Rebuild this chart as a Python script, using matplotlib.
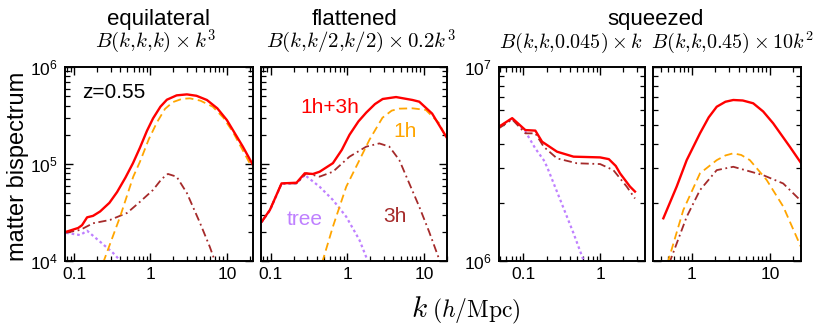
import matplotlib
matplotlib.use("Agg")
import matplotlib.pyplot as plt
from matplotlib.ticker import LogLocator, NullFormatter

plt.rcParams['font.family'] = ['Liberation Sans', 'DejaVu Sans']
plt.rcParams['mathtext.fontset'] = 'custom'
plt.rcParams['mathtext.rm'] = 'Liberation Sans'
plt.rcParams['mathtext.it'] = 'Liberation Sans:italic'
plt.rcParams['mathtext.bf'] = 'Liberation Sans:bold'

# --------------------------------------------
# DATA
# --------------------------------------------
# equilateral
eq_red_k = [0.0786, 0.113, 0.127, 0.148, 0.177, 0.219, 0.29, 0.365, 0.47, 0.59, 0.73, 0.9, 1.08, 1.35, 1.64, 2.2, 3.0, 4.0, 5.48, 7.5, 10, 16.2, 21.9]
eq_red_b = [2.00e4, 2.19e4, 2.34e4, 2.82e4, 2.92e4, 3.24e4, 3.98e4, 5.13e4, 7.24e4, 1.02e5, 1.48e5, 2.20e5, 2.95e5, 3.90e5, 4.60e5, 5.10e5, 5.22e5, 5.05e5, 4.57e5, 3.75e5, 2.84e5, 1.51e5, 9.8e4]
eq_1h_k = [0.24, 0.40, 0.595, 0.73, 0.95, 1.22, 1.55, 1.97, 2.6, 3.28, 4.5, 6.56, 9.0, 12.0, 21.2]
eq_1h_b = [9.6e3, 2.86e4, 7.40e4, 1.06e5, 1.80e5, 2.70e5, 3.70e5, 4.35e5, 4.70e5, 4.75e5, 4.50e5, 3.89e5, 3.00e5, 2.14e5, 9.3e4]
eq_3h_k = [0.0786, 0.12, 0.177, 0.295, 0.494, 0.73, 1.08, 1.4, 1.69, 2.2, 3.0, 4.45, 5.98, 7.1]
eq_3h_b = [1.96e4, 2.09e4, 2.45e4, 2.65e4, 3.13e4, 4.08e4, 5.40e4, 7.0e4, 7.9e4, 7.4e4, 5.01e4, 2.47e4, 1.40e4, 9.6e3]
eq_tree_k = [0.0786, 0.12, 0.148, 0.219, 0.324, 0.43]
eq_tree_b = [1.95e4, 1.85e4, 2.05e4, 1.58e4, 1.21e4, 9.5e3]

# flattened
fl_red_k = [0.0764, 0.098, 0.139, 0.218, 0.279, 0.357, 0.436, 0.65, 0.85, 1.07, 1.4, 1.77, 2.3, 2.9, 4.33, 7.1, 8.69, 12.8, 20.7]
fl_red_b = [2.54e4, 3.36e4, 6.31e4, 6.41e4, 8.02e4, 7.89e4, 8.32e4, 1.02e5, 1.40e5, 2.0e5, 2.75e5, 3.39e5, 4.15e5, 4.68e5, 4.9e5, 4.57e5, 4.39e5, 3.31e5, 1.77e5]
fl_1h_k = [0.47, 0.65, 0.97, 1.445, 1.95, 2.88, 3.8, 4.77, 7.1, 10.6, 15.8, 20.7]
fl_1h_b = [9.6e3, 2.26e4, 5.83e4, 1.10e5, 1.78e5, 3.00e5, 3.55e5, 3.72e5, 3.75e5, 3.61e5, 2.63e5, 1.70e5]
fl_3h_k = [0.0764, 0.098, 0.139, 0.218, 0.293, 0.436, 0.65, 1.07, 1.77, 2.62, 3.54, 4.77, 6.44, 8.69, 11.7, 16.5]
fl_3h_b = [2.51e4, 3.36e4, 6.31e4, 6.31e4, 8.02e4, 7.41e4, 8.32e4, 1.19e5, 1.51e5, 1.63e5, 1.51e5, 1.10e5, 6.31e4, 3.63e4, 2.0e4, 9.5e3]
fl_tree_k = [0.0764, 0.098, 0.139, 0.218, 0.279, 0.436, 0.65, 0.97, 1.445, 1.9]
fl_tree_b = [2.51e4, 3.31e4, 6.24e4, 6.31e4, 7.71e4, 5.83e4, 4.26e4, 2.86e4, 1.64e4, 9.5e3]

# squeezed, k3 = 0.045
sq1_red_k = [0.0478, 0.0713, 0.106, 0.143, 0.175, 0.274, 0.45, 1.0, 1.3, 1.6, 1.82, 2.45, 2.85]
sq1_red_b = [4.92e6, 5.45e6, 4.73e6, 4.70e6, 4.12e6, 3.66e6, 3.45e6, 3.42e6, 3.35e6, 3.09e6, 2.83e6, 2.42e6, 2.28e6]
sq1_3h_k = [0.0478, 0.0713, 0.106, 0.143, 0.184, 0.274, 0.498, 1.0, 1.49, 2.22, 2.85]
sq1_3h_b = [4.83e6, 5.37e6, 4.55e6, 4.55e6, 3.88e6, 3.38e6, 3.19e6, 3.16e6, 2.94e6, 2.42e6, 2.10e6]
sq1_tree_k = [0.0478, 0.0713, 0.106, 0.143, 0.184, 0.203, 0.303, 0.45, 0.63]
sq1_tree_b = [4.90e6, 5.41e6, 4.65e6, 3.80e6, 3.31e6, 3.06e6, 2.06e6, 1.39e6, 9.7e5]

# squeezed, k3 = 0.45
sq2_red_k = [0.434, 0.643, 0.863, 1.276, 1.65, 2.09, 2.7, 3.40, 4.5, 6.12, 8.2, 11.0, 18.0, 25.0]
sq2_red_b = [1.66e6, 2.42e6, 3.31e6, 4.55e6, 5.50e6, 6.24e6, 6.62e6, 6.76e6, 6.72e6, 6.50e6, 5.90e6, 5.13e6, 3.88e6, 3.20e6]
sq2_1h_k = [0.49, 0.781, 1.276, 2.09, 2.7, 3.40, 4.3, 5.55, 9.07, 14.8, 25.0]
sq2_1h_b = [9.7e5, 1.83e6, 2.83e6, 3.31e6, 3.50e6, 3.59e6, 3.52e6, 3.31e6, 2.62e6, 1.91e6, 1.18e6]
sq2_3h_k = [0.515, 0.863, 1.276, 2.09, 3.40, 8.2, 14.8, 25.0]
sq2_3h_b = [9.7e5, 1.69e6, 2.32e6, 2.94e6, 3.06e6, 2.77e6, 2.51e6, 2.04e6]

C_TOT = '#ff0000'
C_1H = '#ffa500'
C_3H = '#a52a2a'
C_TREE = '#bf80ff'


def style_axes(ax, xlim, ylim, xt, xtl, yt, ytl):
    ax.set_xscale('log')
    ax.set_yscale('log')
    ax.set_xlim(*xlim)
    ax.set_ylim(*ylim)
    ax.set_xticks(xt)
    ax.set_xticklabels(xtl)
    ax.set_yticks(yt)
    ax.set_yticklabels(ytl)
    for axis in (ax.xaxis, ax.yaxis):
        axis.set_minor_locator(LogLocator(base=10, subs=range(2, 10), numticks=30))
        axis.set_minor_formatter(NullFormatter())
    ax.tick_params(which='both', direction='in', top=True, right=True, labelsize=12.5)
    ax.tick_params(which='major', length=6, width=1)
    ax.tick_params(which='minor', length=3.5, width=0.9)
    ax.tick_params(axis='x', pad=4)
    ax.tick_params(axis='y', pad=5)
    for sp in ax.spines.values():
        sp.set_linewidth(1.4)


def draw(ax, k, b, kind):
    if kind == 'tot':
        ax.plot(k, b, color=C_TOT, lw=1.7)
    elif kind == '1h':
        ax.plot(k, b, color=C_1H, lw=1.3, dashes=(4.5, 2.5))
    elif kind == '3h':
        ax.plot(k, b, color=C_3H, lw=1.3, dashes=(4.5, 2, 1, 2))
    else:
        ax.plot(k, b, color=C_TREE, lw=1.6, dashes=(1.2, 1.3))


fig = plt.figure(figsize=(8.17, 3.27), dpi=100)
ax1 = fig.add_axes([65/817, 1-261/327, 188/817, 194/327])
ax2 = fig.add_axes([261/817, 1-261/327, 186/817, 194/327])
ax3 = fig.add_axes([499/817, 1-261/327, 146/817, 194/327])
ax4 = fig.add_axes([653/817, 1-261/327, 148/817, 194/327])

# equilateral
draw(ax1, eq_tree_k, eq_tree_b, 'tree')
draw(ax1, eq_3h_k, eq_3h_b, '3h')
draw(ax1, eq_1h_k, eq_1h_b, '1h')
draw(ax1, eq_red_k, eq_red_b, 'tot')
style_axes(ax1, (0.076, 22), (1e4, 1e6), [0.1, 1, 10], ['0.1', '1', '10'],
           [1e4, 1e5, 1e6], ['$10^{4}$', '$10^{5}$', '$10^{6}$'])
ax1.text(0.09, 0.87, 'z=0.55', transform=ax1.transAxes, fontsize=15, va='center')

# flattened
draw(ax2, fl_tree_k, fl_tree_b, 'tree')
draw(ax2, fl_3h_k, fl_3h_b, '3h')
draw(ax2, fl_1h_k, fl_1h_b, '1h')
draw(ax2, fl_red_k, fl_red_b, 'tot')
style_axes(ax2, (0.075, 20), (1e4, 1e6), [0.1, 1, 10], ['0.1', '1', '10'],
           [1e4, 1e5, 1e6], ['', '', ''])
ax2.text(0.21, 0.789, '1h+3h', transform=ax2.transAxes, fontsize=15, color=C_TOT, va='center')
ax2.text(0.71, 0.67, '1h', transform=ax2.transAxes, fontsize=15, color=C_1H, va='center')
ax2.text(0.14, 0.216, 'tree', transform=ax2.transAxes, fontsize=15, color=C_TREE, va='center')
ax2.text(0.656, 0.227, '3h', transform=ax2.transAxes, fontsize=15, color=C_3H, va='center')

# squeezed
draw(ax3, sq1_tree_k, sq1_tree_b, 'tree')
draw(ax3, sq1_3h_k, sq1_3h_b, '3h')
draw(ax3, sq1_red_k, sq1_red_b, 'tot')
style_axes(ax3, (0.048, 3.85), (1e6, 1e7), [0.1, 1], ['0.1', '1'],
           [1e6, 1e7], ['$10^{6}$', '$10^{7}$'])

draw(ax4, sq2_3h_k, sq2_3h_b, '3h')
draw(ax4, sq2_1h_k, sq2_1h_b, '1h')
draw(ax4, sq2_red_k, sq2_red_b, 'tot')
style_axes(ax4, (0.32, 25), (1e6, 1e7), [1, 10], ['1', '10'],
           [1e6, 1e7], ['', ''])

# titles
ty = 1 - 25/327
sy = 1 - 48/327
fig.text(159/817, ty, 'equilateral', fontsize=16, ha='center', va='baseline')
fig.text(354/817, ty, 'flattened', fontsize=16, ha='center', va='baseline')
fig.text(656/817, ty, 'squeezed', fontsize=16, ha='center', va='baseline')
fig.text(156/817, sy, r'$B(k{,}k{,}k)\times k^3$', fontsize=15,
         ha='center', va='baseline', math_fontfamily='cm')
fig.text(361/817, sy, r'$B(k{,}k/2{,}k/2)\times 0.2k^3$', fontsize=15,
         ha='center', va='baseline', math_fontfamily='cm')
fig.text(571/817, sy, r'$B(k{,}k{,}0.045)\times k$', fontsize=14.5,
         ha='center', va='baseline', math_fontfamily='cm')
fig.text(733/817, sy, r'$B(k{,}k{,}0.45)\times 10k^2$', fontsize=14.5,
         ha='center', va='baseline', math_fontfamily='cm')

fig.text(18/817, 1-166/327, 'matter bispectrum', fontsize=17, rotation=90,
         ha='center', va='center')
fig.text(419/817, 1-317/327, '$k$', fontsize=21, ha='center', va='baseline',
         math_fontfamily='cm')
fig.text(432/817, 1-317/327, r'$(h/\mathrm{Mpc})$', fontsize=17, ha='left',
         va='baseline', math_fontfamily='cm')

fig.savefig('out.png', dpi=100)
